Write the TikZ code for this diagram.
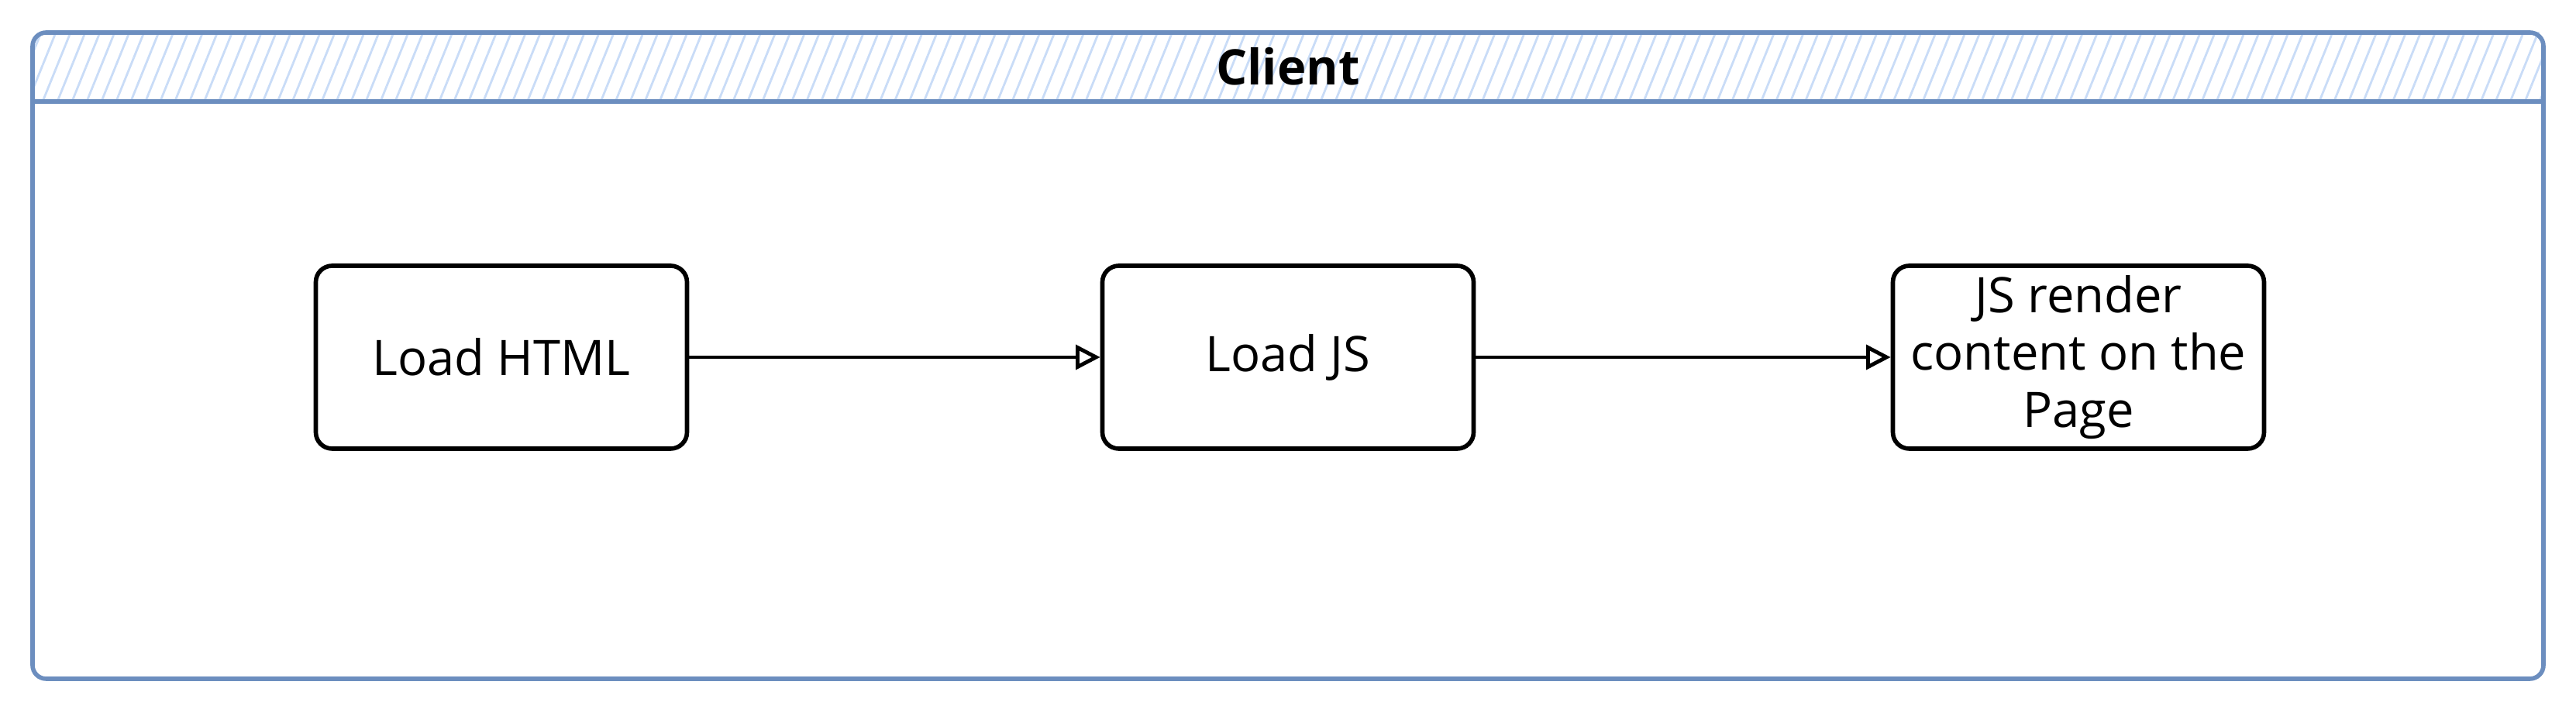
\documentclass[tikz,border=0pt]{standalone}
\usepackage{fontspec}
\setmainfont{Open Sans}
\usetikzlibrary{arrows.meta,patterns.meta}
\definecolor{framecol}{HTML}{6C8EBF}
\definecolor{hatchcol}{HTML}{C9DCF7}
\begin{document}
\begin{tikzpicture}
\tikzset{step box/.style={draw, rounded corners=6pt, minimum width=4.79cm, minimum height=2.36cm, align=center, font=\fontsize{18}{21}\selectfont, line width=1.6pt},
         flow/.style={line width=1.4pt, -{Triangle[open, length=9pt, width=9pt, line width=1.4pt]}}}
    \useasboundingbox (0,0) rectangle (33.24,9.24);
    % swimlane frame and header
    \path[pattern={Lines[angle=68, distance=5pt, line width=0.8pt]}, pattern color=hatchcol]
        (0.42,7.93) rectangle (32.82,8.82);
    \draw[framecol, line width=1.6pt, rounded corners=5pt] (0.42,0.48) rectangle (32.82,8.82);
    \draw[framecol, line width=1.6pt] (0.42,7.93) -- (32.82,7.93);
    \node[font=\fontsize{18}{21}\selectfont\bfseries] at (16.62,8.38) (client) {Client};

    \node[step box] at (6.47,4.63) (html) {Load HTML};
    \node[step box] at (16.62,4.63) (js) {Load JS};
    \node[step box] at (26.82,4.63) (render) {JS render\\content on the\\Page};

    \path[flow] (html) edge (js);
    \path[flow] (js) edge (render);
  \end{tikzpicture}
\end{document}
